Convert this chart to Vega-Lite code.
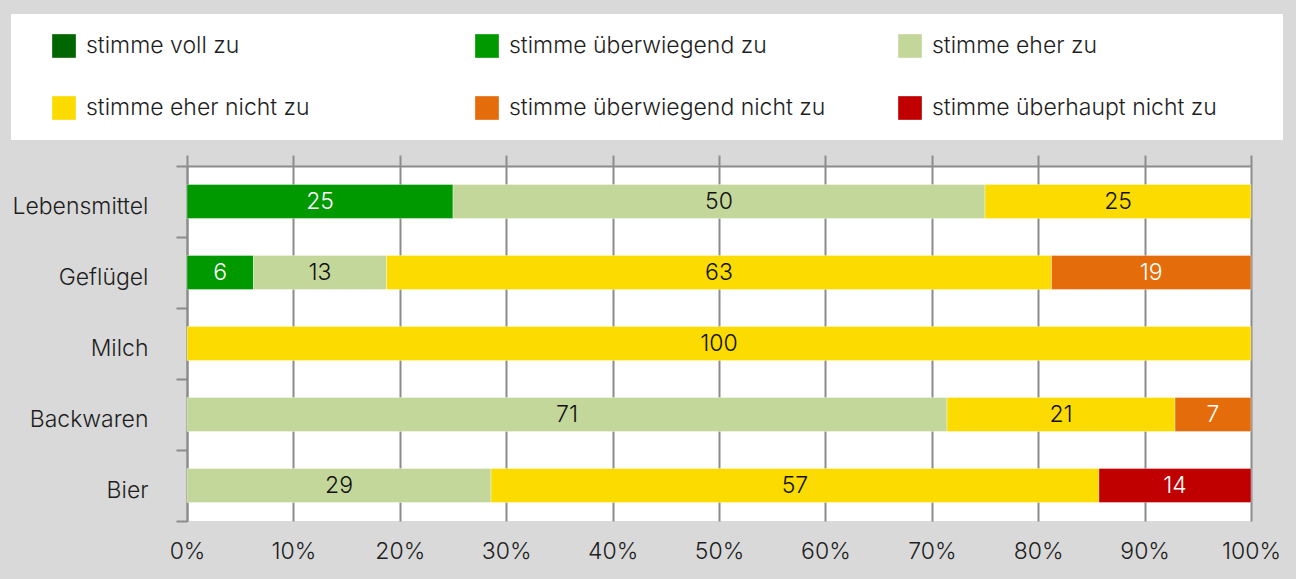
{
  "$schema": "https://vega.github.io/schema/vega-lite/v6.json",
  "width": 1064,
  "height": 355,
  "autosize": {"type": "none"},
  "padding": {"left": 187, "top": 166, "right": 45, "bottom": 58},
  "background": "#d9d9d9",
  "config": {
    "font": "Inter",
    "view": {"fill": "white", "stroke": null}
  },
  "data": {
    "values": [
      {"cat": "Lebensmittel", "k": "stimme überwiegend zu", "v": 25, "o": 2},
      {"cat": "Lebensmittel", "k": "stimme eher zu", "v": 50, "o": 3},
      {"cat": "Lebensmittel", "k": "stimme eher nicht zu", "v": 25, "o": 4},
      {"cat": "Geflügel", "k": "stimme überwiegend zu", "v": 6.25, "o": 2},
      {"cat": "Geflügel", "k": "stimme eher zu", "v": 12.5, "o": 3},
      {"cat": "Geflügel", "k": "stimme eher nicht zu", "v": 62.5, "o": 4},
      {"cat": "Geflügel", "k": "stimme überwiegend nicht zu", "v": 18.75, "o": 5},
      {"cat": "Milch", "k": "stimme eher nicht zu", "v": 100, "o": 4},
      {"cat": "Backwaren", "k": "stimme eher zu", "v": 71.43, "o": 3},
      {"cat": "Backwaren", "k": "stimme eher nicht zu", "v": 21.43, "o": 4},
      {"cat": "Backwaren", "k": "stimme überwiegend nicht zu", "v": 7.14, "o": 5},
      {"cat": "Bier", "k": "stimme eher zu", "v": 28.57, "o": 3},
      {"cat": "Bier", "k": "stimme eher nicht zu", "v": 57.14, "o": 4},
      {"cat": "Bier", "k": "stimme überhaupt nicht zu", "v": 14.29, "o": 6}
    ]
  },
  "encoding": {
    "y": {
      "field": "cat", "type": "nominal",
      "sort": ["Lebensmittel", "Geflügel", "Milch", "Backwaren", "Bier"],
      "scale": {"paddingInner": 0, "paddingOuter": 0},
      "axis": {
        "title": null, "orient": "left", "tickBand": "extent",
        "tickSize": 11, "tickWidth": 2, "tickColor": "#8c8c8c",
        "domain": true, "domainWidth": 2, "domainColor": "#8c8c8c",
        "grid": false, "labelFontSize": 23, "labelFontWeight": 300, "labelColor": "#1e1e1e",
        "labelPadding": 28, "labelOffset": 5, "labelBaseline": "middle", "labelLimit": 300
      }
    }
  },
  "resolve": {"axis": {"x": "independent"}},
  "layer": [
    {
      "mark": {"type": "bar", "height": {"band": 0.48}, "stroke": "white", "strokeWidth": 1, "strokeOpacity": 0.35},
      "encoding": {
        "x": {
          "field": "v", "type": "quantitative", "stack": "zero",
          "scale": {"domain": [0, 100], "nice": false},
          "axis": {
            "title": null, "orient": "bottom",
            "values": [0, 10, 20, 30, 40, 50, 60, 70, 80, 90, 100],
            "labelExpr": "datum.value + '%'",
            "domain": false, "ticks": false,
            "grid": true, "gridColor": "#8c8c8c", "gridWidth": 2, "gridOpacity": 1,
            "labelFontSize": 23, "labelFontWeight": 300, "labelColor": "#1e1e1e", "labelPadding": 19,
            "labelFlush": false, "labelOverlap": false
          }
        },
        "color": {
          "field": "k", "type": "nominal",
          "scale": {
            "domain": ["stimme voll zu", "stimme überwiegend zu", "stimme eher zu", "stimme eher nicht zu", "stimme überwiegend nicht zu", "stimme überhaupt nicht zu"],
            "range": ["#006600", "#009900", "#c4d79b", "#fcdc00", "#e46c0a", "#c00000"]
          },
          "legend": {
            "orient": "none", "legendX": -176, "legendY": -152,
            "title": " ", "titleOrient": "right", "titlePadding": 46, "titleFontSize": 23,
            "columns": 3, "direction": "horizontal", "gridAlign": "all",
            "symbolType": "square", "symbolSize": 560, "symbolStrokeWidth": 0, "symbolOpacity": 1,
            "symbolOffset": 21,
            "labelFontSize": 23, "labelFontWeight": 300, "labelColor": "#1e1e1e", "labelOffset": 10, "labelLimit": 500,
            "columnPadding": 51, "rowPadding": 38, "padding": 20,
            "fillColor": "white", "strokeColor": null
          }
        },
        "order": {"field": "o", "type": "quantitative"}
      }
    },
    {
      "mark": {"type": "text", "fontSize": 23, "fontWeight": 300, "align": "center", "baseline": "middle"},
      "encoding": {
        "x": {
          "field": "v", "type": "quantitative", "stack": "zero", "bandPosition": 0.5,
          "axis": {
            "title": null, "orient": "top",
            "values": [0, 10, 20, 30, 40, 50, 60, 70, 80, 90, 100],
            "labels": false, "grid": false,
            "ticks": true, "tickSize": 11, "tickWidth": 2, "tickColor": "#8c8c8c",
            "domain": true, "domainWidth": 2, "domainColor": "#8c8c8c"
          }
        },
        "detail": {"field": "k", "type": "nominal"},
        "order": {"field": "o", "type": "quantitative"},
        "text": {"field": "v", "type": "quantitative", "format": ".0f"},
        "color": {
          "condition": {
            "test": "indexof(['stimme voll zu','stimme überwiegend zu','stimme überwiegend nicht zu','stimme überhaupt nicht zu'], datum.k) >= 0",
            "value": "white"
          },
          "value": "#111111"
        }
      }
    }
  ]
}
